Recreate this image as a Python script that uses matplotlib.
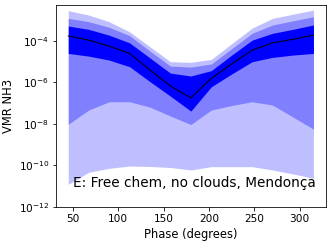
import matplotlib
matplotlib.use("Agg")
import matplotlib.pyplot as plt
import matplotlib.ticker as mticker
import numpy as np

# phase angles (degrees)
phase = [45, 67.5, 90, 112.5, 135, 157.5, 180, 202.5, 225, 247.5, 270, 292.5, 315]

# log10 of NH3 VMR
outer_hi = [-2.55, -2.76, -3.08, -3.57, -4.29, -5.01, -5.04, -4.90, -4.14, -3.39, -2.92, -2.72, -2.52]
mid_hi = [-2.92, -3.08, -3.35, -3.75, -4.50, -5.22, -5.27, -5.12, -4.38, -3.64, -3.24, -3.04, -2.84]
inner_hi = [-3.29, -3.45, -3.73, -4.10, -4.83, -5.56, -5.70, -5.44, -4.69, -3.97, -3.64, -3.45, -3.24]
median = [-3.77, -3.97, -4.26, -4.61, -5.41, -6.18, -6.76, -5.81, -5.12, -4.45, -4.10, -3.93, -3.73]
inner_lo = [-4.61, -4.74, -4.93, -5.25, -5.97, -6.67, -7.39, -6.22, -5.60, -5.01, -4.80, -4.69, -4.61]
mid_lo = [-8.03, -7.34, -6.94, -6.94, -7.20, -7.63, -8.04, -7.34, -7.12, -6.94, -7.10, -7.68, -8.26]
outer_lo = [-10.92, -10.34, -10.15, -10.04, -10.06, -10.11, -10.23, -10.07, -10.07, -10.07, -10.23, -10.42, -10.63]

def v(a):
    return 10.0 ** np.array(a)

fig = plt.figure(figsize=(332 / 72, 243 / 72), dpi=72)
ax = fig.add_axes([0.1687, 0.1494, 0.8123, 0.8288])

ax.fill_between(phase, v(outer_lo), v(outer_hi), color='#bfbfff', linewidth=0)
ax.fill_between(phase, v(mid_lo), v(mid_hi), color='#8080ff', linewidth=0)
ax.fill_between(phase, v(inner_lo), v(inner_hi), color='#0000ff', linewidth=0)
ax.plot(phase, v(median), 'k-', linewidth=1.0)

ax.set_yscale('log')
ax.set_ylim(1e-12, 10 ** -2.29)
ax.set_xlim(31.5, 328.5)
ax.yaxis.set_major_locator(mticker.FixedLocator([1e-12, 1e-10, 1e-8, 1e-6, 1e-4]))
ax.yaxis.set_minor_locator(mticker.NullLocator())
ax.set_xticks([50, 100, 150, 200, 250, 300])
ax.tick_params(labelsize=10.5)

ax.set_xlabel('Phase (degrees)', fontsize=11.5)
ax.set_ylabel('VMR NH3', fontsize=11.5)
ax.text(0.063, 0.098, 'E: Free chem, no clouds, Mendonça', transform=ax.transAxes,
        fontsize=13.6, va='baseline')

fig.savefig('out.png', dpi=72)
